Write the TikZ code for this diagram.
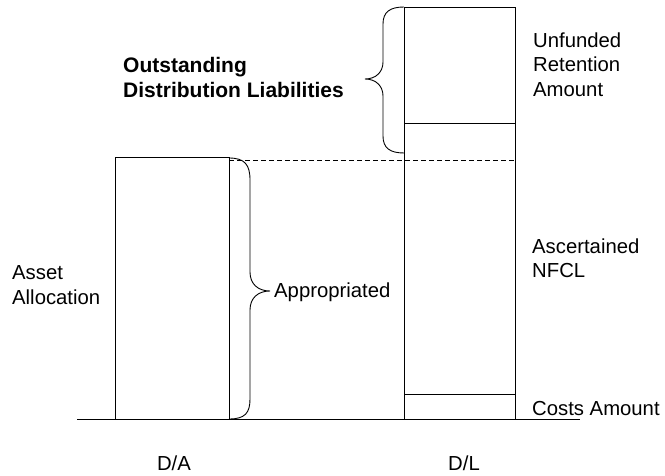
\documentclass[tikz,border=0pt]{standalone}
\usepackage{fontspec}
\setmainfont{Liberation Sans}
\usetikzlibrary{calc}
\begin{document}
\begin{tikzpicture}[x=1pt,y=-1pt,
  bar/.style={draw=black,line width=0.9pt},
  brace/.style={draw=black,line width=0.9pt},
  lbl/.style={inner sep=0pt,align=left,font=\fontsize{20.3}{24.5}\selectfont},
  boldlbl/.style={lbl,font=\fontsize{21}{25}\selectfont\bfseries}]
\useasboundingbox (0,0) rectangle (665,476);

% key points of the two columns
\coordinate (base0) at (77,419);
\coordinate (base1) at (580,419);
\coordinate (daBL) at (115,419);
\coordinate (daTL) at (115,157);
\coordinate (daTR) at (229,157);
\coordinate (daBR) at (229,419);
\coordinate (dlBL) at (404,419);
\coordinate (dlTL) at (404,7);
\coordinate (dlTR) at (515,7);
\coordinate (dlBR) at (515,419);
\coordinate (ufL) at (404,123);
\coordinate (ufR) at (515,123);
\coordinate (caL) at (404,394);
\coordinate (caR) at (515,394);
\coordinate (lvlA) at (229,160);
\coordinate (lvlB) at (515,160);

% ground line
\draw[bar] (base0) -- (base1);

% D/A column
\draw[bar] (daBL) -- (daTL) -- (daTR) -- (daBR);

% D/L column and its divisions
\draw[bar] (dlBL) -- (dlTL) -- (dlTR) -- (dlBR);
\draw[bar] (ufL) -- (ufR);
\draw[bar] (caL) -- (caR);

% level of the asset allocation carried across
\draw[bar,dashed,dash pattern=on 5pt off 3pt] (lvlA) -- (lvlB);

% brace: appropriated part of the assets
\coordinate (apTop) at (229,158);
\coordinate (apTip) at (270,291);
\coordinate (apBot) at (229,419);
\draw[brace] (apTop) .. controls (245,158) and (250,165) .. (250,180)
  -- (250,272) .. controls (250,284) and (258,291) .. (apTip)
  .. controls (258,291) and (250,298) .. (250,310)
  -- (250,399) .. controls (250,413) and (245,419) .. (apBot);

% brace: outstanding distribution liabilities
\coordinate (odTop) at (404,7);
\coordinate (odTip) at (365,79);
\coordinate (odBot) at (404,153);
\draw[brace] (odTop) .. controls (390,7) and (383,12) .. (383,24)
  -- (383,62) .. controls (383,72) and (376,79) .. (odTip)
  .. controls (376,79) and (383,86) .. (383,96)
  -- (383,136) .. controls (383,148) and (390,153) .. (odBot);

% labels
\node[boldlbl,anchor=north west] (outst) at (123,57) {Outstanding\\Distribution Liabilities};
\node[lbl,anchor=north west] (unf) at (533,32.5) {Unfunded\\Retention\\Amount};
\node[lbl,anchor=north west] (asc) at (532,238.5) {Ascertained\\NFCL};
\node[lbl,anchor=base west] (cost) at (532,415) {Costs Amount};
\node[lbl,anchor=north west] (asset) at (12,265.5) {Asset\\Allocation};
\node[lbl,anchor=base west] (appr) at (274,298) {Appropriated};
\node[lbl,anchor=base] (da) at (174,470) {D/A};
\node[lbl,anchor=base] (dl) at (464,470) {D/L};
\end{tikzpicture}
\end{document}
